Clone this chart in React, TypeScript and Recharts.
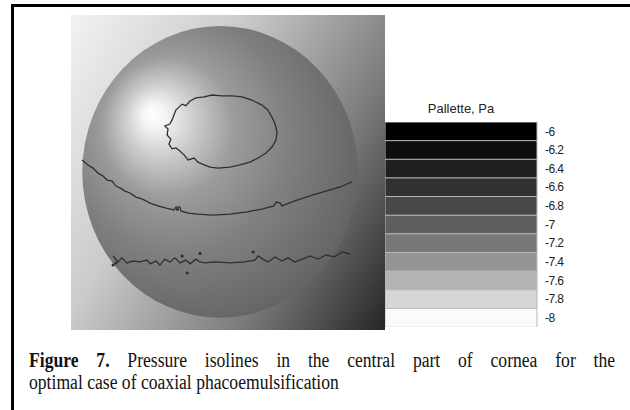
import { ComposedChart, Scatter, XAxis, YAxis, BarChart, Bar, Cell } from "recharts";

// palette (colour bar), top to bottom
const PALETTE_LABELS = ["-6", "-6.2", "-6.4", "-6.6", "-6.8", "-7", "-7.2", "-7.4", "-7.6", "-7.8", "-8"];
const PALETTE_COLORS = ["#000000", "#0e0e0e", "#1f1f1f", "#313131", "#484848", "#5f5f5f", "#787878", "#949494", "#b3b3b3", "#d6d6d6", "#fbfbfb"];
const BAND_SPAN = [1, 1, 1, 1, 1, 1, 1, 1, 1, 1, 1];

// cornea surface, normalised 0..100 coordinates of the square view
const SPHERE_CENTER = [{ x: 47.5, y: 50.2 }];

// isoline around the apex
const ISO_APEX_X = [32.2, 33.4, 35.4, 36.6, 37.9, 39.8, 42.4, 44.9, 48.1, 51.3, 54.5, 57.6, 60.8, 62.7, 64.0, 65.0, 65.6, 65.3, 64.0, 62.1, 59.6, 57.0, 53.8, 50.6, 46.8, 44.3, 42.4, 40.4, 39.2, 37.3, 36.0, 34.7, 33.4, 32.2, 31.2, 31.8, 30.6, 30.9, 29.9, 31.5, 32.2];
const ISO_APEX_Y = [66.7, 69.8, 71.7, 71.2, 72.7, 73.7, 74.0, 74.6, 74.3, 74.3, 74.0, 73.0, 71.4, 69.8, 67.6, 65.4, 62.9, 60.3, 58.1, 56.2, 54.6, 53.3, 52.4, 51.7, 51.4, 51.7, 52.4, 53.3, 54.6, 54.0, 55.6, 56.8, 57.8, 57.5, 59.0, 60.6, 61.9, 63.8, 64.8, 65.4, 66.7];

// middle isoline
const ISO_MID_X = [3.5, 5.4, 7.0, 8.6, 10.2, 11.5, 13.1, 14.3, 15.6, 17.2, 18.8, 20.7, 22.6, 25.2, 27.7, 30.3, 32.8, 33.4, 34.7, 35.0, 37.3, 40.4, 45.2, 50.6, 56.1, 60.8, 64.6, 65.3, 66.6, 67.2, 71.3, 77.1, 81.2, 85.7, 89.5];
const ISO_MID_Y = [54.0, 52.4, 51.4, 49.8, 48.9, 47.6, 47.3, 45.7, 45.1, 44.1, 43.5, 42.2, 41.6, 40.3, 39.4, 38.7, 38.1, 39.0, 39.0, 37.8, 37.1, 36.8, 36.5, 36.8, 37.5, 38.4, 39.4, 40.6, 40.3, 39.4, 41.0, 42.9, 44.1, 45.4, 47.0];

// lower isoline
const ISO_LOW_X = [13.4, 15.0, 16.2, 17.8, 19.7, 22.0, 24.2, 25.2, 27.1, 28.3, 29.9, 31.5, 33.1, 34.7, 36.6, 37.9, 39.8, 41.1, 42.7, 45.9, 50.6, 55.4, 58.6, 59.6, 61.1, 62.7, 65.0, 67.2, 69.1, 71.3, 73.6, 76.1, 78.7, 81.2, 83.8, 86.3, 88.9];
const ISO_LOW_Y = [23.5, 21.6, 22.9, 21.3, 21.9, 21.6, 22.2, 21.0, 21.9, 20.6, 22.5, 21.6, 22.9, 21.3, 22.2, 21.0, 22.5, 21.6, 21.3, 21.6, 21.3, 21.6, 22.2, 23.5, 22.5, 21.6, 23.2, 21.9, 22.9, 21.6, 22.5, 23.5, 22.5, 23.8, 23.2, 24.8, 24.1];

// small closed contours along the lower isoline
const SPECK_X = [13.4, 37.0, 41.1, 58.0, 35.4, 14.3, 33.9];
const SPECK_Y = [20.6, 18.1, 24.4, 24.8, 23.5, 21.3, 38.3];

const VIEW_W = 314;
const VIEW_H = 315;
const SPHERE_RX = 43.9; // in axis units
const SPHERE_RY = 46.3;

const zip = (xs: number[], ys: number[]) => xs.map((x, i) => ({ x, y: ys[i] }));

const bands = PALETTE_LABELS.map((label, i) => ({ label, span: BAND_SPAN[i] }));

function SphereShape(props: any) {
    const { cx, cy } = props;
    return (
        <g>
            <defs>
                <radialGradient id="sphereGrad" cx="0.45" cy="0.45" r="0.8" fx="0.25" fy="0.3">
                    <stop offset="0" stopColor="#ffffff" />
                    <stop offset="0.05" stopColor="#f5f5f5" />
                    <stop offset="0.15" stopColor="#cfcfcf" />
                    <stop offset="0.3" stopColor="#9c9c9c" />
                    <stop offset="0.5" stopColor="#808080" />
                    <stop offset="0.75" stopColor="#676767" />
                    <stop offset="1" stopColor="#484848" />
                </radialGradient>
            </defs>
            <ellipse
                cx={cx}
                cy={cy}
                rx={(SPHERE_RX * VIEW_W) / 100}
                ry={(SPHERE_RY * VIEW_H) / 100}
                fill="url(#sphereGrad)"
            />
        </g>
    );
}

const NoDot = () => <g />;
const Speck = (props: any) => <circle cx={props.cx} cy={props.cy} r={1.5} fill="#2a2a2a" />;

const isoLine = { stroke: "#2f2f2f", strokeWidth: 1.3 };

export default function App() {
    return (
        <div style={{ position: "absolute", left: 0, top: 0, width: 630, height: 410, background: "#fff", overflow: "hidden" }}>
            <div
                style={{
                    position: "absolute", left: 11, top: 4, width: 630, height: 420,
                    borderTop: "3px solid #000", borderLeft: "3px solid #000",
                }}
            />
            <div
                style={{
                    position: "absolute", left: 71, top: 15, width: VIEW_W, height: VIEW_H,
                    background: "linear-gradient(120deg, #f2f2f2 0%, #cbcbcb 35%, #7c7c7c 70%, #262626 100%)",
                }}
            >
                <ComposedChart width={VIEW_W} height={VIEW_H} margin={{ top: 0, right: 0, bottom: 0, left: 0 }}>
                    <XAxis type="number" dataKey="x" domain={[0, 100]} hide />
                    <YAxis type="number" dataKey="y" domain={[0, 100]} hide />
                    <Scatter data={SPHERE_CENTER} shape={SphereShape} isAnimationActive={false} />
                    <Scatter data={zip(ISO_APEX_X, ISO_APEX_Y)} line={isoLine} shape={NoDot} isAnimationActive={false} />
                    <Scatter data={zip(ISO_MID_X, ISO_MID_Y)} line={isoLine} shape={NoDot} isAnimationActive={false} />
                    <Scatter data={zip(ISO_LOW_X, ISO_LOW_Y)} line={isoLine} shape={NoDot} isAnimationActive={false} />
                    <Scatter data={zip(SPECK_X, SPECK_Y)} shape={Speck} isAnimationActive={false} />
                </ComposedChart>
            </div>
            <div
                style={{
                    position: "absolute", left: 385, top: 101, width: 152, textAlign: "center",
                    fontFamily: "'Liberation Sans', Arial, sans-serif", fontSize: 13, color: "#222",
                }}
            >
                Pallette, Pa
            </div>
            <div style={{ position: "absolute", left: 385, top: 122 }}>
                <BarChart
                    width={192}
                    height={205}
                    data={bands}
                    layout="vertical"
                    barCategoryGap={0}
                    margin={{ top: 0, right: 0, bottom: 0, left: 0 }}
                >
                    <XAxis type="number" domain={[0, 1]} hide />
                    <YAxis
                        type="category"
                        dataKey="label"
                        orientation="right"
                        width={40}
                        interval={0}
                        axisLine={false}
                        tickLine={false}
                        tick={{ fill: "#222", fontSize: 12, letterSpacing: -0.6, fontFamily: "'Liberation Sans', Arial, sans-serif" }}
                    />
                    <Bar dataKey="span" stroke="#b8b8b8" strokeWidth={1} isAnimationActive={false}>
                        {bands.map((_, i) => (
                            <Cell key={`band-${i}`} fill={PALETTE_COLORS[i]} />
                        ))}
                    </Bar>
                </BarChart>
            </div>
            <div
                style={{
                    position: "absolute", left: 29, top: 349, width: 666,
                    transform: "scaleX(0.88)", transformOrigin: "0 0",
                    fontFamily: "'Liberation Serif', 'Times New Roman', serif", fontSize: 20, lineHeight: "22px", color: "#111",
                }}
            >
                <div style={{ textAlign: "justify", textAlignLast: "justify" }}>
                    <b>Figure 7.</b> Pressure isolines in the central part of cornea for the
                </div>
                <div>optimal case of coaxial phacoemulsification</div>
            </div>
        </div>
    );
}
